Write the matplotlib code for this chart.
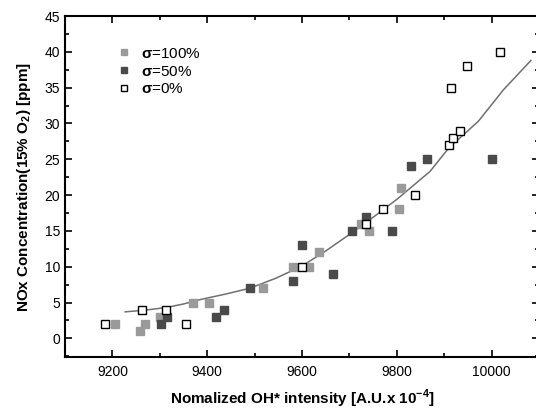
import matplotlib
matplotlib.use("Agg")
import matplotlib.pyplot as plt
from matplotlib.ticker import MultipleLocator

plt.rcParams['font.family'] = ['Liberation Sans', 'DejaVu Sans']
plt.rcParams['mathtext.fontset'] = 'custom'
plt.rcParams['mathtext.rm'] = 'Liberation Sans'
plt.rcParams['mathtext.bf'] = 'Liberation Sans:bold'

# sigma = 100 %
x_100 = [9205, 9258, 9268, 9301, 9370, 9403, 9517, 9581, 9614, 9636,
         9724, 9742, 9805, 9809]
y_100 = [2, 1, 2, 3, 5, 5, 7, 10, 10, 12, 16, 15, 18, 21]

# sigma = 50 %
x_50 = [9303, 9316, 9418, 9435, 9491, 9580, 9600, 9666, 9705, 9735,
        9790, 9829, 9864, 10000]
y_50 = [2, 3, 3, 4, 7, 8, 13, 9, 15, 17, 15, 24, 25, 25]

# sigma = 0 %
x_0 = [9185, 9262, 9313, 9355, 9600, 9735, 9770, 9838, 9911, 9919,
       9934, 9915, 9948, 10018]
y_0 = [2, 4, 4, 2, 10, 16, 18, 20, 27, 28, 29, 35, 38, 40]

# fitted curve
fit_x = [9227, 9270, 9313, 9350, 9384, 9440, 9490, 9545, 9600, 9650,
         9700, 9750, 9800, 9870, 9910, 9972, 10025, 10083]
fit_y = [3.7, 3.95, 4.3, 4.8, 5.4, 6.2, 7.0, 8.4, 10.1, 12.2,
         14.5, 16.9, 19.4, 23.3, 26.6, 30.3, 34.7, 38.8]

fig = plt.figure(figsize=(5.36, 4.12), dpi=100)
ax = fig.add_axes([65/536, 55/412, 474/536, 341/412])

ax.plot(fit_x, fit_y, color='#707070', lw=1.1, zorder=1)
ax.plot(x_100, y_100, 's', color='#9a9a9a', ms=5.2, mec='#9a9a9a',
        label=r'$\mathbf{\sigma}$=100%', zorder=2)
ax.plot(x_50, y_50, 's', color='#4a4a4a', ms=5.2, mec='#4a4a4a',
        label=r'$\mathbf{\sigma}$=50%', zorder=2)
ax.plot(x_0, y_0, 's', mfc='white', mec='black', mew=1.0, ms=5.2,
        label=r'$\mathbf{\sigma}$=0%', zorder=3)

ax.set_xlim(9100, 10100)
ax.set_ylim(-2.6, 45)
ax.xaxis.set_major_locator(MultipleLocator(200))
ax.xaxis.set_minor_locator(MultipleLocator(100))
ax.yaxis.set_major_locator(MultipleLocator(5))
ax.yaxis.set_minor_locator(MultipleLocator(2.5))
ax.tick_params(which='both', direction='in', top=True, right=True,
               labelsize=10, width=1.2)
ax.tick_params(which='major', length=5)
ax.tick_params(which='minor', length=3)
ax.tick_params(axis='x', pad=6)
for s in ax.spines.values():
    s.set_linewidth(1.5)

ax.set_xlabel(r'Nomalized OH* intensity [A.U.x 10$^{\mathbf{-4}}$]',
              fontsize=11, fontweight='bold', labelpad=6)
ax.set_ylabel(r'NOx Concentration(15% O$_{\mathbf{2}}$) [ppm]',
              fontsize=11, fontweight='bold', labelpad=8)

ax.legend(loc='upper left', bbox_to_anchor=(0.08, 0.95), frameon=False,
          fontsize=11, handlelength=1.0, handletextpad=0.6,
          labelspacing=0.25, markerscale=0.85)

fig.savefig('out.png', dpi=100)
